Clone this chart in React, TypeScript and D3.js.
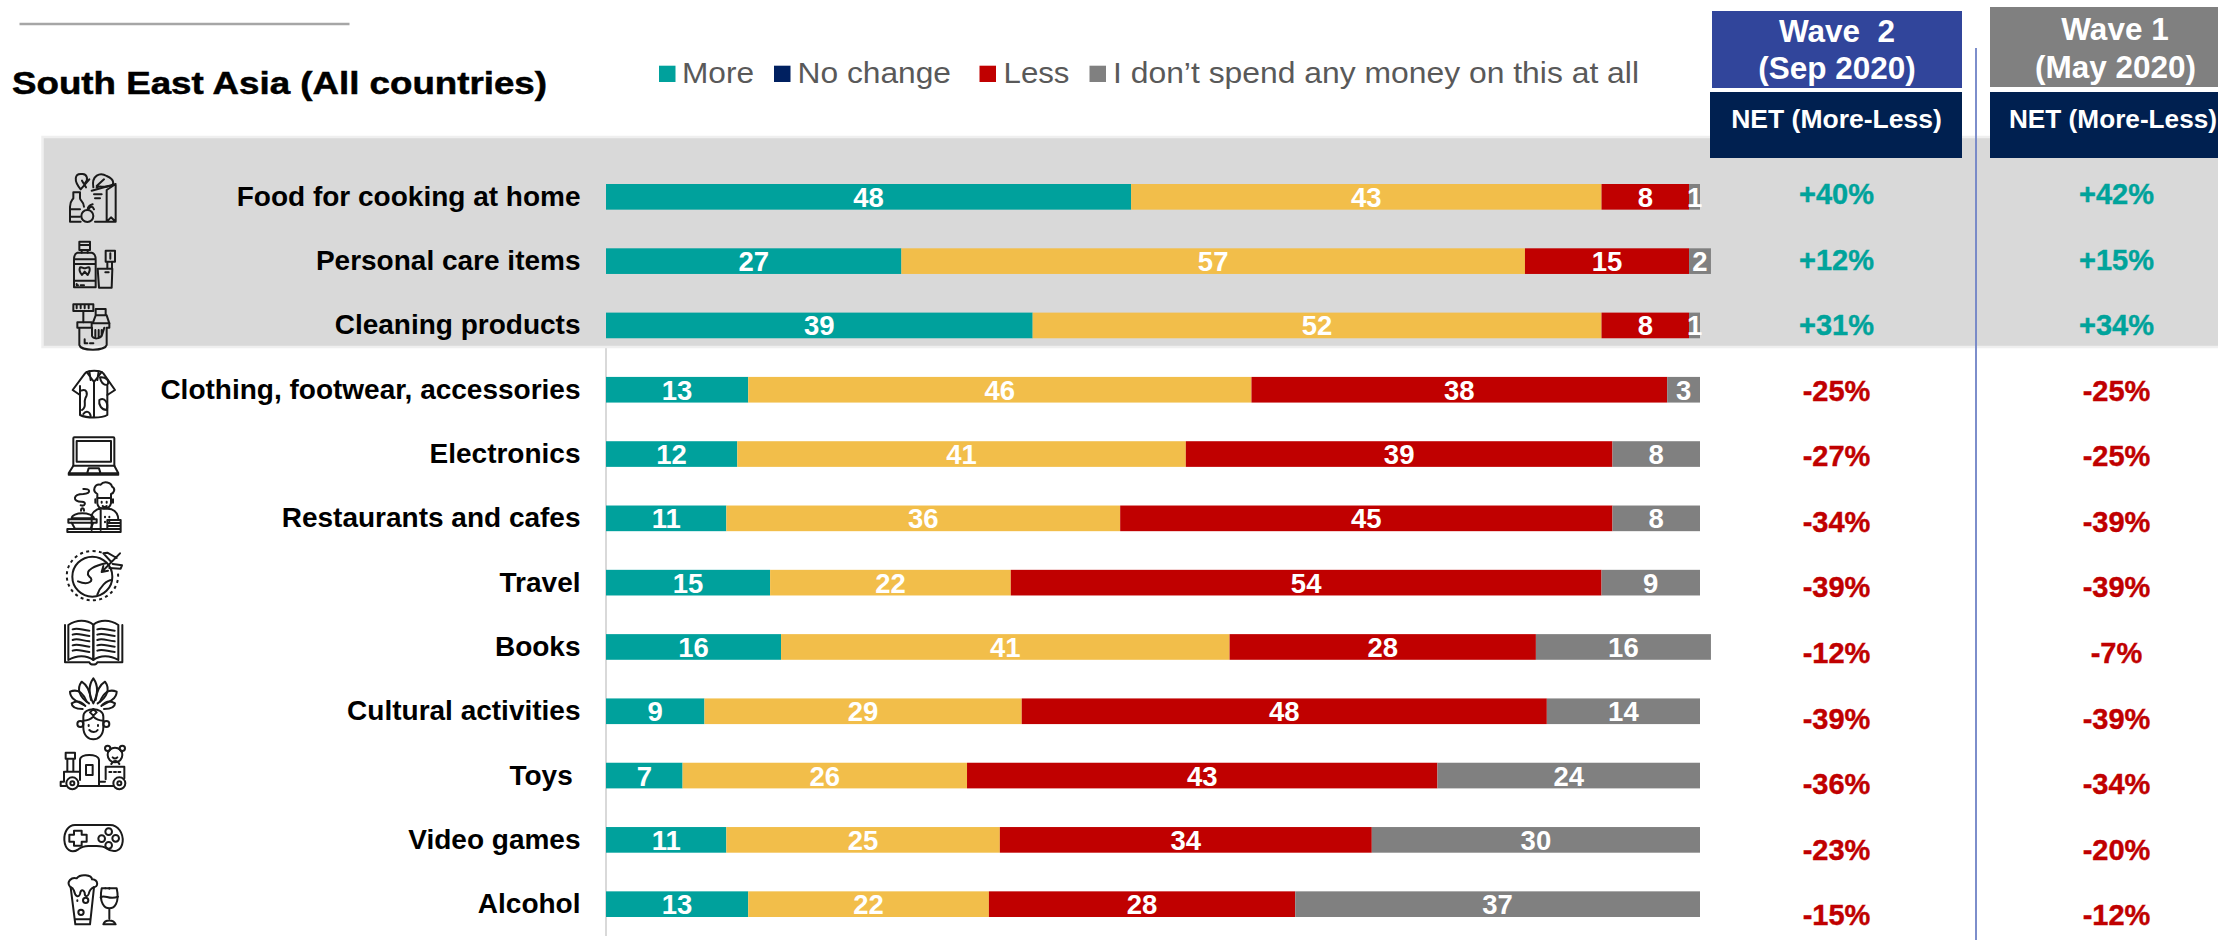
import React from "react";
import * as d3 from "d3";

// Survey rows, top to bottom. The trailing space on "Toys " is part of the label.
const categories = [
  "Food for cooking at home",
  "Personal care items",
  "Cleaning products",
  "Clothing, footwear, accessories",
  "Electronics",
  "Restaurants and cafes",
  "Travel",
  "Books",
  "Cultural activities",
  "Toys ",
  "Video games",
  "Alcohol",
];
const more = [48, 27, 39, 13, 12, 11, 15, 16, 9, 7, 11, 13];
const noChange = [43, 57, 52, 46, 41, 36, 22, 41, 29, 26, 25, 22];
const less = [8, 15, 8, 38, 39, 45, 54, 28, 48, 43, 34, 28];
const noSpend = [1, 2, 1, 3, 8, 8, 9, 16, 14, 24, 30, 37];
const netWave2 = [40, 12, 31, -25, -27, -34, -39, -12, -39, -36, -23, -15];
const netWave1 = [42, 15, 34, -25, -25, -39, -39, -7, -39, -34, -20, -12];

const seriesKeys = ["more", "noChange", "less", "noSpend"];
const barColors = ["#00A19C", "#F2BE4A", "#C00000", "#808080"];

const legendLabels = ["More", "No change", "Less", "I don\u2019t spend any money on this at all"];
const legendColors = ["#00A19C", "#002060", "#C00000", "#808080"];
const legendSquareX = [659, 774, 979.5, 1089.5];
const legendTextX = [682, 797.5, 1003.5, 1113];
const legendTextW = [72, 153.5, 66, 526];

const FONT = "'Liberation Sans', Arial, sans-serif";

const rows = categories.map((_, i) => ({
  more: more[i],
  noChange: noChange[i],
  less: less[i],
  noSpend: noSpend[i],
}));

const x = d3.scaleLinear().domain([0, 100]).range([606, 1700]);
const y = d3.scaleBand<number>().domain(d3.range(categories.length)).range([184, 917]).paddingInner(0.601).paddingOuter(0);
const netY = d3.scalePoint<number>().domain(d3.range(categories.length)).range([204, 925.2]);
const stacked = d3.stack<any>().keys(seriesKeys)(rows);
const formatNet = (v: number) => `${v > 0 ? "+" : ""}${v}%`;

// Line pictograms, each given as path data in a 3x-per-pixel grid.
const wavy = (x0: number, x1: number, ys: number[]) =>
  ys
    .map((v) => `M${x0},${v} C${x0 + (x1 - x0) * 0.3},${v - 7} ${x0 + (x1 - x0) * 0.6},${v + 3} ${x1},${v + 4}`)
    .join(" ");

type Icon = { at: [number, number]; d: string[]; circles?: number[][]; dashed?: string[] };

const icons: Icon[] = [
  {
    at: [50, 160],
    d: [
      "M125,92 L197,72 V185 H135 M170,90 V185 M170,90 L197,72 M170,185 L183,172 L197,185 M132,103 H155 M135,115 H150",
      "M92,88 C70,62 74,40 95,42 C112,40 116,60 105,70 M92,88 L118,58 M96,62 L108,82",
      "M130,82 C124,46 150,36 170,48 C196,58 194,80 176,78 C160,85 150,75 140,82 M140,78 L162,58",
      "M70,97 H90 V115 C90,122 102,125 102,140 M70,97 V115 C65,122 60,125 60,140 V185 H92 M60,148 H90 M60,170 H90",
      "M113,150 C113,140 120,135 128,133 M115,148 C122,138 128,138 132,148",
    ],
    circles: [[112, 168, 18]],
  },
  {
    at: [50, 160],
    d: [
      "M88,245 H120 V270 H88 Z M88,255 H120 M95,270 V278 M113,270 V278",
      "M82,278 H125 C135,280 137,290 137,300 V382 H72 V300 C72,290 75,280 82,278 Z M72,298 H137 M72,312 H137 M72,362 H137",
      "M90,322 C95,320 100,325 104,325 C108,325 113,320 118,322 C122,330 116,340 113,345 L104,335 L96,345 C92,340 86,330 90,322 Z",
      "M80,372 V376 H84 M92,376 H102",
      "M167,272 H195 V305 H167 Z M181,280 V296 M172,305 V325 M186,305 V325",
      "M143,326 H187 L185,383 H147 Z M166,337 H176",
    ],
  },
  {
    at: [50, 160],
    d: [
      "M70,433 H130 V453 H70 Z M80,433 V445 M92,433 V445 M104,433 V445 M116,433 V445 M100,453 V487",
      "M137,447 H167 V466 H137 Z M137,466 L128,490 H178 L170,466",
      "M82,487 H125 V503 H82 Z M88,503 V555 C92,574 165,574 170,555 V503 M178,490 V503 H170",
      "M126,503 V528 C130,538 150,538 156,525 L163,503 M136,510 V530 M146,510 V530 M155,510 V528",
      "M104,538 V550 H112 M120,550 H130",
    ],
  },
  {
    at: [50, 360],
    d: [
      "M105,40 L68,90 L90,105 V165 C110,175 155,175 172,165 V105 L195,90 L160,40 C150,30 115,30 105,40 Z",
      "M132,62 V170 M110,36 L132,66 L155,36 M118,34 L122,60 M146,34 L142,60 M90,105 L90,78 M172,105 V78",
      "M93,92 C110,85 115,100 106,115 C100,130 112,140 96,150",
      "M148,120 C165,110 176,130 170,150 C155,150 145,135 148,120 Z",
      "M150,52 C168,50 180,62 172,75 C160,75 152,65 150,52 Z M100,162 C108,150 120,155 122,168",
    ],
  },
  {
    at: [50, 360],
    d: [
      "M70,317 V235 Q70,232 73,232 H190 Q193,232 193,235 V317",
      "M80,243 H183 V305 H80 Z",
      "M70,317 L56,340 H205 L193,317 Z M56,344 H205 M112,338 L116,325 H147 L151,338",
    ],
  },
  {
    at: [50, 360],
    d: [
      "M142,402 C125,392 134,370 152,374 C162,360 184,368 186,380 C198,386 192,400 183,402 V414 H142 Z",
      "M142,414 V430 C145,452 178,452 183,430 V414 M155,425 V428 M170,425 V428 M158,438 C162,442 166,442 170,438",
      "M136,418 V428 M189,418 V428",
      "M125,510 V465 C132,450 148,444 160,445 L185,448 C202,455 205,470 205,480 M152,446 V510 M165,470 V472 M165,485 V487 M178,470 V472 M178,485 V487",
      "M100,387 C122,385 124,400 100,402 C68,402 66,426 96,425 C110,425 106,440 92,436",
      "M65,475 C65,455 128,455 132,475 Z M93,452 C93,442 102,442 102,452",
      "M55,478 H140 V488 H55 Z M65,488 L75,506 H122 L130,488",
      "M52,507 H212 V516 H52 Z M172,480 H212 V507 H172 Z M172,489 H212 M172,498 H212",
    ],
  },
  {
    at: [50, 560],
    d: [
      "M168,10 C140,16 100,30 118,50 C134,60 118,78 84,64",
      "M186,60 C170,60 150,80 142,104",
      "M155,36 L210,-20 M155,36 L160,18 M155,36 L174,32 M184,6 L160,-20 L172,-22 L200,-6 M188,12 L216,16 L212,26 L178,24",
    ],
    circles: [[127, 50, 60]],
    dashed: ["M155,-22 A77,74 0 1 0 204,40"],
  },
  {
    at: [50, 560],
    d: [
      "M55,195 C80,178 110,178 130,194 V300 C110,285 80,285 55,300 Z",
      "M205,195 C180,178 150,178 130,194 V300 C150,285 180,285 205,300 Z",
      "M45,195 V307 H118 C122,316 138,316 142,307 H217 V195",
      wavy(68, 118, [208, 224, 240, 256, 272]),
      wavy(142, 194, [208, 224, 240, 256, 272]),
    ],
  },
  {
    at: [50, 560],
    d: [
      "M130,430 C112,395 118,372 130,355 C142,372 148,395 130,430 Z",
      "M117,430 C86,410 80,385 95,365 C110,374 120,395 123,420",
      "M143,430 C174,410 180,385 165,365 C150,374 140,395 137,420",
      "M102,435 C80,425 60,415 60,395 C85,385 100,400 110,425",
      "M158,435 C180,425 200,415 200,395 C175,385 160,400 150,425",
      "M98,447 C80,447 65,442 65,430 C80,420 95,425 106,438",
      "M162,447 C180,447 195,442 195,430 C180,420 165,425 154,438",
      "M100,470 C100,440 160,440 160,470 V502 C160,526 145,538 130,538 C115,538 100,526 100,502 Z",
      "M130,447 L140,457 L130,467 L120,457 Z M100,482 C115,482 125,475 130,470 C135,475 145,482 160,482",
      "M116,495 V498 M144,495 V498 M118,510 C125,518 138,518 143,510",
    ],
    circles: [[91, 492, 9], [169, 492, 9]],
  },
  {
    at: [50, 740],
    d: [
      "M47,38 H75 V56 H47 Z M52,56 V95 M70,56 V95 M45,95 H90 V120 M42,95 V125 H32 V138 H48",
      "M90,95 V60 C90,40 145,40 147,60 V138 H85 M108,75 H128 V105 H108 Z M147,125 H165",
      "M167,80 H223 V115 M167,80 V118 M178,96 H184 M192,96 H198 M205,96 H211",
      "M184,72 C190,60 202,60 208,72 M188,52 C192,56 198,56 202,52",
      "M86,138 H190",
    ],
    circles: [
      [67, 130, 18], [67, 130, 6], [208, 130, 18], [208, 130, 6],
      [195, 45, 22], [173, 25, 8], [217, 25, 8],
    ],
  },
  {
    at: [50, 740],
    d: [
      "M75,255 H180 C205,255 220,280 218,305 C215,335 190,340 170,325 C160,318 150,318 140,318 H115 C100,318 95,320 85,328 C65,342 45,330 43,300 C42,275 55,255 75,255 Z",
      "M72,272 H95 V284 H110 V305 H95 V317 H72 V305 H58 V284 H72 Z",
    ],
    circles: [[176, 275, 10], [155, 296, 10], [197, 295, 10], [176, 316, 10]],
  },
  {
    at: [50, 740],
    d: [
      "M60,440 C48,425 65,410 80,415 C92,400 125,405 126,418 C146,420 146,442 130,442 C122,446 118,452 116,462 C112,472 104,470 104,458 C100,448 92,448 90,462 C86,474 76,470 72,452 C70,446 66,442 60,440 Z",
      "M62,442 L76,553 H120 L132,442 M76,538 H120 M82,481 V483",
      "M155,445 C146,490 165,505 178,505 C192,505 210,490 200,445 Z M178,505 V536 M160,553 C165,538 190,538 197,553 Z",
      "M152,472 C165,462 178,482 204,470",
      "M166,445 V445 M178,444 V446",
    ],
    circles: [[107, 481, 8], [93, 517, 8]],
  },
];

function Pictogram({ icon }: { icon: Icon }) {
  return (
    <g
      transform={`translate(${icon.at[0]},${icon.at[1]}) scale(${1 / 3})`}
      fill="none"
      stroke="#1a1a1a"
      strokeWidth={6}
      strokeLinejoin="round"
      strokeLinecap="round"
    >
      {icon.dashed?.map((d, i) => <path key={`dash-${i}`} d={d} strokeDasharray="9 10" strokeLinecap="butt" />)}
      {icon.circles?.map((c, i) => <circle key={`c-${i}`} cx={c[0]} cy={c[1]} r={c[2]} />)}
      {icon.d.map((d, i) => <path key={i} d={d} />)}
    </g>
  );
}

export default function App() {
  const bh = y.bandwidth();
  return (
    <svg
      width={2218}
      height={940}
      viewBox="0 0 2218 940"
      style={{ position: "absolute", left: 0, top: 0, display: "block", background: "#fff" }}
      fontFamily={FONT}
    >
      {/* rule above the title */}
      <line x1={19.5} x2={349.5} y1={24} y2={24} stroke="#A6A6A6" strokeWidth={2.4} />

      {/* baseline of the bars */}
      <line x1={x(0)} x2={x(0)} y1={340} y2={936} stroke="#D9D9D9" strokeWidth={2} />

      {/* highlight band behind the rows that grew */}
      <rect x={42.5} y={137} width={2180} height={210} fill="#D9D9D9" stroke="#EFEFEF" strokeWidth={2.5} />

      <text
        x={12}
        y={93.5}
        fontSize={31}
        fontWeight={700}
        fill="#000"
        stroke="#000"
        strokeWidth={0.5}
        textLength={535}
        lengthAdjust="spacingAndGlyphs"
      >
        South East Asia (All countries)
      </text>

      {/* legend */}
      {legendLabels.map((label, i) => (
        <g key={label}>
          <rect x={legendSquareX[i]} y={65.7} width={16.5} height={16.3} fill={legendColors[i]} />
          <text x={legendTextX[i]} y={83} fontSize={30} fill="#595959" textLength={legendTextW[i]} lengthAdjust="spacingAndGlyphs">
            {label}
          </text>
        </g>
      ))}

      {/* wave column headers */}
      <rect x={1712} y={11} width={250} height={77} fill="#31459B" />
      <rect x={1710} y={92} width={252} height={66} fill="#002050" />
      <rect x={1990} y={7} width={228} height={80} fill="#808080" />
      <rect x={1990} y={92} width={228} height={66} fill="#002050" />
      <g fill="#fff" fontWeight={700} textAnchor="middle">
        <text x={1837} y={42} fontSize={31.5} style={{ whiteSpace: "pre" }}>{"Wave  2"}</text>
        <text x={1837} y={79} fontSize={31.5}>(Sep 2020)</text>
        <text x={2115} y={40} fontSize={31.5}>Wave 1</text>
        <text x={2115.5} y={78} fontSize={31.5}>(May 2020)</text>
        <text x={1836.5} y={128} fontSize={26.5}>NET (More-Less)</text>
        <text x={2113} y={128} fontSize={26.2}>NET (More-Less)</text>
      </g>
      <line x1={1976} x2={1976} y1={48} y2={940} stroke="#6F82C6" strokeWidth={1.8} />

      {/* category labels */}
      {categories.map((c, i) => (
        <text
          key={c}
          x={580.5}
          y={y(i)! + bh / 2 + 9}
          textAnchor="end"
          fontSize={28}
          fontWeight={700}
          fill="#000"
          style={{ whiteSpace: "pre" }}
        >
          {c}
        </text>
      ))}

      {/* stacked bars */}
      {stacked.map((layer, s) => (
        <g key={layer.key}>
          {layer.map((d, i) => (
            <g key={i}>
              <rect x={x(d[0])} y={y(i)} width={x(d[1]) - x(d[0])} height={bh} fill={barColors[s]} />
              <text
                x={x((d[0] + d[1]) / 2)}
                y={y(i)! + bh / 2 + 10}
                textAnchor="middle"
                fontSize={27.5}
                fontWeight={700}
                fill="#fff"
              >
                {d[1] - d[0]}
              </text>
            </g>
          ))}
        </g>
      ))}

      {/* net scores */}
      {[netWave2, netWave1].map((vals, col) => (
        <g key={col}>
          {vals.map((v, i) => {
            const color = v > 0 ? "#00A39B" : "#C00000";
            return (
              <text
                key={i}
                x={col === 0 ? 1836.5 : 2116.5}
                y={netY(i)}
                textAnchor="middle"
                fontSize={29}
                fontWeight={700}
                fill={color}
                stroke={color}
                strokeWidth={0.4}
              >
                {formatNet(v)}
              </text>
            );
          })}
        </g>
      ))}

      {/* category pictograms */}
      {icons.map((icon, i) => <Pictogram key={i} icon={icon} />)}
    </svg>
  );
}
